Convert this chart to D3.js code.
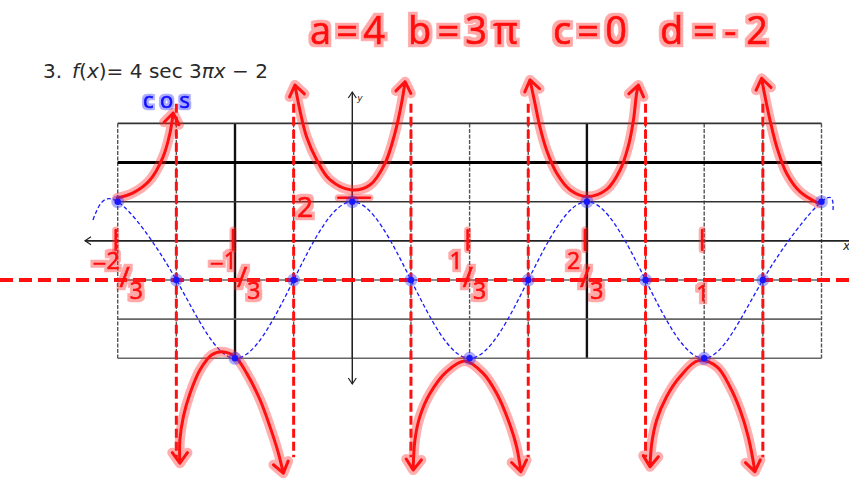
<!DOCTYPE html>
<html>
<head>
<meta charset="utf-8">
<script src="https://cdn.jsdelivr.net/npm/d3@7"></script>
<style>
  html, body { margin: 0; padding: 0; background: #fff; }
  svg { display: block; }
</style>
</head>
<body>
<svg id="chart" width="849" height="480"></svg>
<script>
// guide curve: key points of 4cos(3πx) - 2 (plus the two loose ends)
const cosX = [-0.737, -2/3, -1/2, -1/3, -1/6, 0, 1/6, 1/3, 1/2, 2/3, 5/6, 1, 7/6, 4/3, 1.366];
const cosY = [1.07, 2, -2, -6, -2, 2, -2, -6, -2, 2, -2, -6, -2, 2, 1.47];

// blue dots
const dotX = [-2/3, -1/2, -1/3, -1/6, 0, 1/6, 1/3, 1/2, 2/3, 5/6, 1, 7/6, 4/3];
const dotY = [2, -2, -6, -2, 2, -2, -6, -2, 2, -2, -6, -2, 2];

const asymptotes = [-1/2, -1/6, 1/6, 1/2, 5/6, 7/6];
const midline = -2;

const gridCols = d3.range(-4, 9).map(k => k / 6);
const heavyCols = [-1/3, 2/3];
const gridRows = [6, 4, 2, 0, -2, -4, -6];
const heavyRows = [4];

// hand drawn sec branches (x, y pairs), each ends in an arrow
const secA = [[-0.668, 2.19], [-0.623, 2.45], [-0.575, 3.11], [-0.538, 4.28], [-0.518, 5.51], [-0.509, 6.53]];
const secB = [[-0.163, 7.96], [-0.149, 6.68], [-0.130, 5.32], [-0.101, 4.13], [-0.063, 3.11], [-0.002, 2.60],
              [0.050, 2.85], [0.093, 3.96], [0.121, 5.49], [0.140, 7.03], [0.150, 8.13]];
const secC = [[0.505, 8.22], [0.519, 7.03], [0.533, 5.83], [0.552, 4.64], [0.581, 3.45], [0.619, 2.60], [0.668, 2.26],
              [0.723, 2.63], [0.761, 3.62], [0.784, 4.81], [0.799, 6.17], [0.808, 7.54], [0.813, 7.96]];
const secD = [[1.324, 1.92], [1.272, 2.51], [1.234, 3.45], [1.206, 4.81], [1.187, 6.17], [1.173, 7.36], [1.163, 8.30]];
const secE = [[-0.490, -11.36], [-0.490, -10.17], [-0.480, -8.98], [-0.461, -7.79], [-0.433, -6.60], [-0.400, -5.83],
              [-0.371, -5.66], [-0.333, -5.92], [-0.300, -6.77], [-0.262, -8.13], [-0.234, -9.49], [-0.210, -10.85], [-0.196, -11.87]];
const secF = [[0.173, -11.71], [0.178, -10.17], [0.192, -8.98], [0.221, -7.79], [0.268, -6.68], [0.320, -6.14],
              [0.372, -6.77], [0.410, -7.79], [0.443, -9.15], [0.467, -10.52], [0.479, -11.79]];
const secG = [[0.846, -11.54], [0.851, -10.34], [0.865, -9.15], [0.893, -7.96], [0.931, -6.94], [0.983, -6.12],
              [1.036, -6.43], [1.073, -7.45], [1.102, -8.64], [1.125, -10.00], [1.144, -11.79]];
const branches = [
  { pts: secA, both: false }, { pts: secB, both: true }, { pts: secC, both: true }, { pts: secD, both: false },
  { pts: secE, both: true }, { pts: secF, both: true }, { pts: secG, both: true }
];

// handwritten x labels
const tickVals = [-2/3, -1/3, 1/3, 2/3, 1];
const tickText = ["−2/3", "−1/3", "1/3", "2/3", "1"];

const notes = ["a=4", "b=3π", "c=0", "d=-2"];

const svg = d3.select("#chart");
const x = d3.scaleLinear().domain([-2/3, 4/3]).range([117.7, 821.5]);
const y = d3.scaleLinear().domain([-6, 6]).range([358.3, 123.4]);

const RED = "#ff1010";
const HALO = "rgba(255,40,40,0.38)";

// highlighter glow for the handwritten text
const defs = svg.append("defs");
function glow(id, color, r) {
  const f = defs.append("filter").attr("id", id).attr("x", "-30%").attr("y", "-30%").attr("width", "160%").attr("height", "160%");
  f.append("feMorphology").attr("in", "SourceAlpha").attr("operator", "dilate").attr("radius", r).attr("result", "d");
  f.append("feGaussianBlur").attr("in", "d").attr("stdDeviation", 0.7).attr("result", "b");
  f.append("feFlood").attr("flood-color", color).attr("flood-opacity", 0.4);
  f.append("feComposite").attr("in2", "b").attr("operator", "in").attr("result", "h");
  const m = f.append("feMerge");
  m.append("feMergeNode").attr("in", "h");
  m.append("feMergeNode").attr("in", "SourceGraphic");
}
glow("glowRed", "rgb(255,40,40)", 3);
glow("glowBlue", "rgb(40,40,255)", 2);

// grid
const isHeavy = d => heavyCols.some(h => Math.abs(h - d) < 1e-6);
const grid = svg.append("g");
grid.selectAll(".col").data(gridCols).join("line")
  .attr("x1", d => x(d)).attr("x2", d => x(d))
  .attr("y1", y(6)).attr("y2", y(-6))
  .attr("stroke", d => isHeavy(d) ? "#111" : "#555")
  .attr("stroke-width", d => isHeavy(d) ? 2.4 : 1.4)
  .attr("stroke-dasharray", d => isHeavy(d) || Math.abs(d) < 1e-6 ? null : "4,1.5");

grid.selectAll(".row").data(gridRows.filter(d => d !== 0)).join("line")
  .attr("x1", x(-2/3)).attr("x2", x(4/3))
  .attr("y1", d => y(d)).attr("y2", d => y(d))
  .attr("stroke", d => heavyRows.includes(d) ? "#000" : (d >= 2 ? "#333" : "#666"))
  .attr("stroke-width", d => heavyRows.includes(d) ? 3 : 1.6);

// axes
const ax = svg.append("g").attr("stroke", "#222").attr("fill", "none");
ax.append("line").attr("x1", 85).attr("x2", 849).attr("y1", y(0)).attr("y2", y(0)).attr("stroke-width", 1.6);
ax.append("path").attr("d", `M91,${y(0) - 4}L85,${y(0)}L91,${y(0) + 4}`).attr("stroke-width", 1.2);
ax.append("line").attr("x1", x(0)).attr("x2", x(0)).attr("y1", 92).attr("y2", 384).attr("stroke-width", 1.4);
ax.append("path").attr("d", `M${x(0) - 4},98L${x(0)},92L${x(0) + 4},98`).attr("stroke-width", 1.2);
ax.append("path").attr("d", `M${x(0) - 4},378L${x(0)},384L${x(0) + 4},378`).attr("stroke-width", 1.2);
svg.append("text").attr("x", x(0) + 5).attr("y", 101).attr("font-family", "DejaVu Sans").attr("font-style", "italic")
  .attr("font-size", 9).attr("fill", "#222").text("y");
svg.append("text").attr("x", 843).attr("y", 250).attr("font-family", "DejaVu Sans").attr("font-style", "italic")
  .attr("font-size", 12).attr("fill", "#222").text("x");

// blue dashed guide
const guide = d3.line().x(d => x(d[0])).y(d => y(d[1])).curve(d3.curveNatural);
svg.append("path").datum(cosX.map((v, i) => [v, cosY[i]]))
  .attr("d", guide).attr("fill", "none").attr("stroke", "#1a1aff")
  .attr("stroke-width", 1.3).attr("stroke-dasharray", "4,2.5");

// asymptotes and midline
svg.append("g").selectAll("line").data(asymptotes).join("line")
  .attr("x1", d => x(d)).attr("x2", d => x(d))
  .attr("y1", y(7.0)).attr("y2", y(-11.05))
  .attr("stroke", RED).attr("stroke-width", 3).attr("stroke-dasharray", "9,4");
svg.append("line").attr("x1", 0).attr("x2", 849).attr("y1", y(midline)).attr("y2", y(midline))
  .attr("stroke", RED).attr("stroke-width", 4).attr("stroke-dasharray", "13,6");

// red hand drawn secant branches
const hand = d3.line().x(d => x(d[0])).y(d => y(d[1])).curve(d3.curveCatmullRom.alpha(0.5));
function arrowHead(p, q) {
  const a = Math.atan2(q[1] - p[1], q[0] - p[0]);
  const L = 13, s = 0.62;
  const b1 = [q[0] - L * Math.cos(a - s), q[1] - L * Math.sin(a - s)];
  const b2 = [q[0] - L * Math.cos(a + s), q[1] - L * Math.sin(a + s)];
  return `M${b1}L${q}L${b2}`;
}
function branchPaths(b) {
  const px = b.pts.map(d => [x(d[0]), y(d[1])]);
  const n = px.length;
  let d = hand(b.pts) + arrowHead(px[n - 2], px[n - 1]);
  if (b.both) d += arrowHead(px[1], px[0]);
  return d;
}
const redG = svg.append("g").attr("fill", "none").attr("stroke-linecap", "round").attr("stroke-linejoin", "round");
redG.selectAll(".halo").data(branches).join("path").attr("d", branchPaths)
  .attr("stroke", HALO).attr("stroke-width", 10);
redG.selectAll(".core").data(branches).join("path").attr("d", branchPaths)
  .attr("stroke", RED).attr("stroke-width", 3);

// tick strokes on the x axis and the y = 2 dash
const marks = svg.append("g").attr("stroke-linecap", "round");
[[HALO, 7], [RED, 2.6]].forEach(([c, w]) => {
  marks.selectAll(null).data(tickVals).join("line")
    .attr("x1", d => x(d) - 2).attr("x2", d => x(d) - 2)
    .attr("y1", y(0.55)).attr("y2", y(-0.45))
    .attr("stroke", c).attr("stroke-width", w);
  marks.append("line").attr("x1", x(-0.04)).attr("x2", x(0.05)).attr("y1", y(2.2)).attr("y2", y(2.2))
    .attr("stroke", c).attr("stroke-width", w);
});

// blue dots
const dots = svg.append("g");
dots.selectAll(".h").data(dotX).join("circle")
  .attr("cx", d => x(d)).attr("cy", (d, i) => y(dotY[i])).attr("r", 6.5).attr("fill", "rgba(50,50,255,0.4)");
dots.selectAll(".c").data(dotX).join("circle")
  .attr("cx", d => x(d)).attr("cy", (d, i) => y(dotY[i])).attr("r", 3.2).attr("fill", "#1818ff");

// handwritten text
const hw = "Open Sans, DejaVu Sans, sans-serif";
function handText(parent, txt, px, py, size, color, filter, len) {
  const t = parent.append("text").attr("x", px).attr("y", py)
    .attr("font-family", hw).attr("font-size", size)
    .attr("fill", color).attr("stroke", color).attr("stroke-width", 0.6)
    .attr("filter", `url(#${filter})`).text(txt);
  if (len) t.attr("textLength", len).attr("lengthAdjust", "spacing");
  return t;
}

const notesX = [310, 408, 553, 660];
const notesW = [75, 110, 74, 108];
notes.forEach((n, i) => handText(svg, n, notesX[i], 44, 38, RED, "glowRed", notesW[i]));

handText(svg, "cos", 143, 108, 22, "#1010ff", "glowBlue", 47);
handText(svg, "2", 297, 217, 28, RED, "glowRed");

// fraction labels: sign, raised numerator, slash, lowered denominator in one text
tickVals.forEach((v, i) => {
  const t = tickText[i];
  if (t.includes("/")) {
    const neg = t.startsWith("−");
    const [num, den] = t.replace("−", "").split("/");
    const el = svg.append("text")
      .attr("x", x(v) + (neg ? -25 : -20)).attr("y", 272)
      .attr("font-family", hw).attr("font-size", 23)
      .attr("fill", RED).attr("stroke", RED).attr("stroke-width", 0.6)
      .attr("filter", "url(#glowRed)");
    el.append("tspan").attr("font-size", 24).text(neg ? "−" : "");
    el.append("tspan").attr("dy", -3).text(num);
    el.append("tspan").attr("font-size", 28).attr("dy", 18).text("/");
    el.append("tspan").attr("dy", 12).text(den);
  } else {
    handText(svg, t, x(v) - 8, 301, 22, RED, "glowRed");
  }
});

// printed problem text
const title = svg.append("g").attr("font-family", "DejaVu Sans").attr("fill", "#2a2a2a");
title.append("text").attr("x", 43).attr("y", 78).attr("font-size", 20).text("3.");
const eq = title.append("text").attr("x", 72).attr("y", 78).attr("font-size", 20)
  .attr("textLength", 196).attr("lengthAdjust", "spacing");
eq.append("tspan").attr("font-style", "italic").text("f");
eq.append("tspan").text("(");
eq.append("tspan").attr("font-style", "italic").text("x");
eq.append("tspan").text(")");
eq.append("tspan").text("= 4 sec 3");
eq.append("tspan").attr("font-style", "italic").text("πx");
eq.append("tspan").text(" − 2");
</script>
</body>
</html>
